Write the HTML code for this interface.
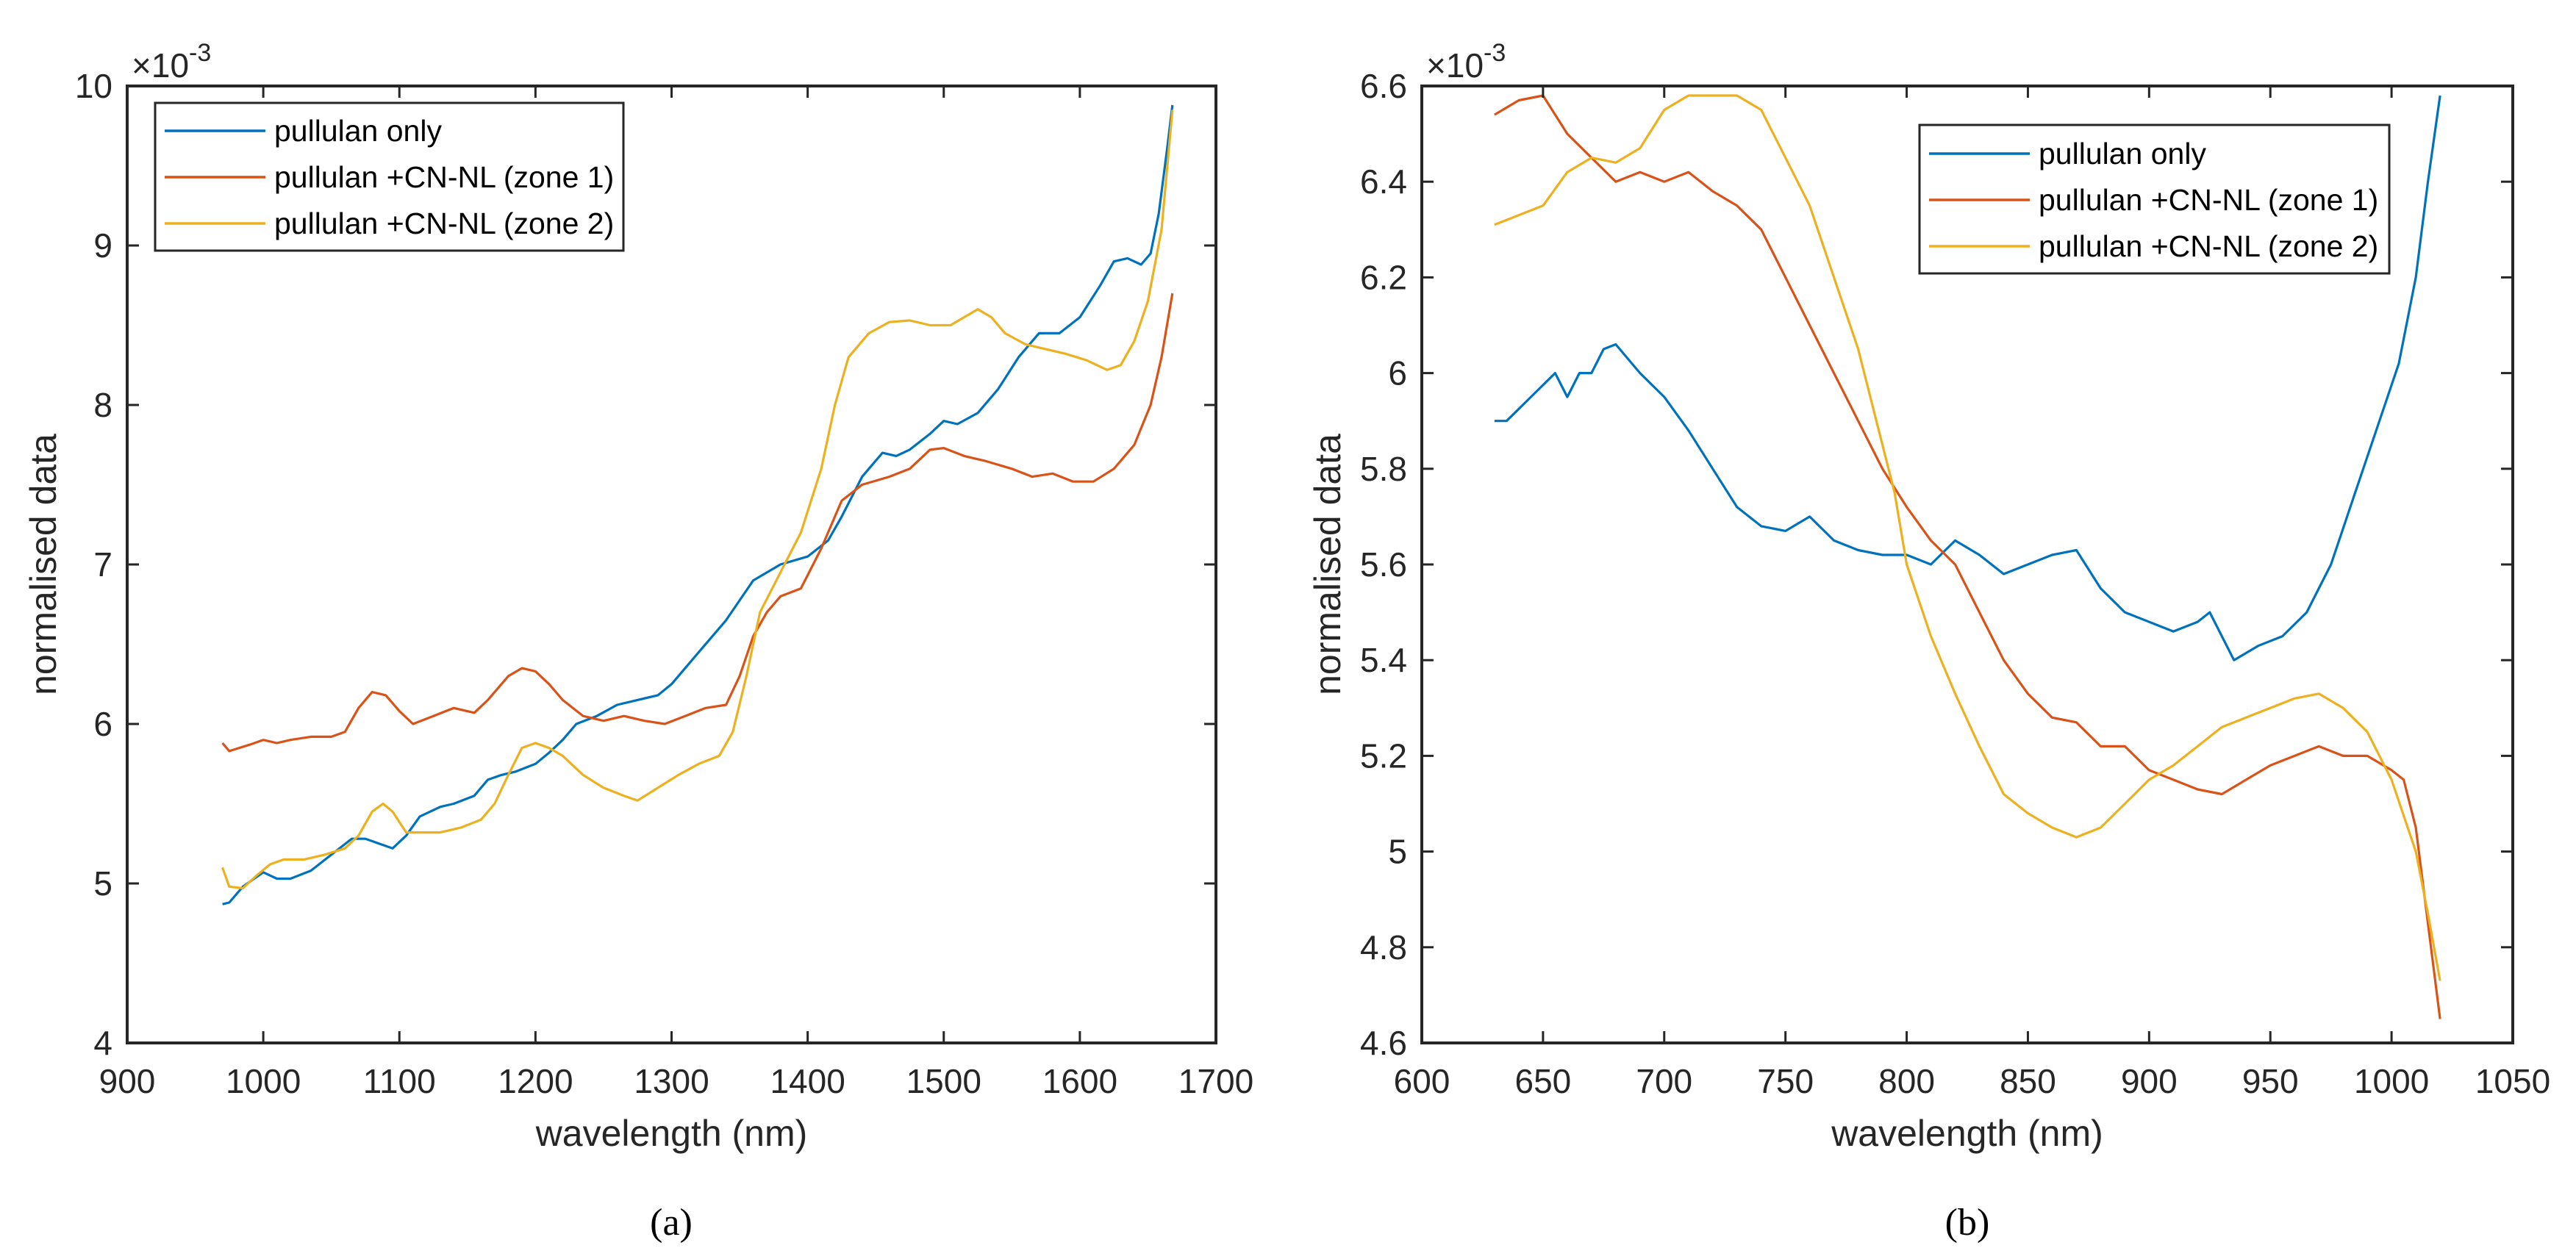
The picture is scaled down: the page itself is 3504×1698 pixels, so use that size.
<!DOCTYPE html>
<html><head><meta charset="utf-8">
<style>
html,body{margin:0;padding:0;background:#fff;}
svg{display:block;}
text{font-family:"Liberation Sans",Arial,sans-serif;fill:#262626;}
</style></head>
<body>
<svg id="fig" width="3504" height="1698" viewBox="0 0 3504 1698" xmlns="http://www.w3.org/2000/svg">
<rect x="0" y="0" width="3504" height="1698" fill="#fff"/>
<g id="panelA"></g>
<g id="panelB"></g>
<text x="913" y="1680" text-anchor="middle" style="font-family:'Liberation Serif',serif;font-size:52px;fill:#000">(a)</text>
<text x="2676" y="1680" text-anchor="middle" style="font-family:'Liberation Serif',serif;font-size:52px;fill:#000">(b)</text>
</svg>
<script>
// ---- Panel (a) data ----
const aBlueX = [970,975,985,1000,1010,1020,1035,1050,1065,1075,1085,1095,1105,1115,1130,1140,1155,1165,1175,1185,1200,1210,1220,1230,1245,1260,1275,1290,1300,1320,1340,1360,1380,1400,1415,1425,1440,1455,1465,1475,1490,1500,1510,1525,1540,1555,1570,1585,1600,1615,1625,1635,1645,1652,1658,1664,1668];
const aBlueY = [4.87,4.88,4.98,5.07,5.03,5.03,5.08,5.18,5.28,5.28,5.25,5.22,5.3,5.42,5.48,5.5,5.55,5.65,5.68,5.7,5.75,5.82,5.9,6.0,6.05,6.12,6.15,6.18,6.25,6.45,6.65,6.9,7.0,7.05,7.15,7.3,7.55,7.7,7.68,7.72,7.82,7.9,7.88,7.95,8.1,8.3,8.45,8.45,8.55,8.75,8.9,8.92,8.88,8.95,9.2,9.6,9.88];
const aOrangeX = [970,975,990,1000,1010,1020,1035,1050,1060,1070,1080,1090,1100,1110,1125,1140,1155,1165,1180,1190,1200,1210,1220,1235,1250,1265,1280,1295,1310,1325,1340,1350,1360,1370,1380,1395,1410,1425,1440,1460,1475,1490,1500,1515,1530,1550,1565,1580,1595,1610,1625,1640,1652,1660,1668];
const aOrangeY = [5.88,5.83,5.87,5.9,5.88,5.9,5.92,5.92,5.95,6.1,6.2,6.18,6.08,6.0,6.05,6.1,6.07,6.15,6.3,6.35,6.33,6.25,6.15,6.05,6.02,6.05,6.02,6.0,6.05,6.1,6.12,6.3,6.55,6.7,6.8,6.85,7.1,7.4,7.5,7.55,7.6,7.72,7.73,7.68,7.65,7.6,7.55,7.57,7.52,7.52,7.6,7.75,8.0,8.3,8.7];
const aYellowX = [970,975,985,995,1005,1015,1030,1045,1060,1070,1080,1088,1095,1105,1115,1130,1145,1160,1170,1180,1190,1200,1210,1220,1235,1250,1265,1275,1290,1305,1320,1335,1345,1355,1365,1380,1395,1410,1420,1430,1445,1460,1475,1490,1505,1515,1525,1535,1545,1560,1575,1590,1605,1620,1630,1640,1650,1660,1668];
const aYellowY = [5.1,4.98,4.97,5.05,5.12,5.15,5.15,5.18,5.22,5.3,5.45,5.5,5.45,5.32,5.32,5.32,5.35,5.4,5.5,5.68,5.85,5.88,5.85,5.8,5.68,5.6,5.55,5.52,5.6,5.68,5.75,5.8,5.95,6.3,6.7,6.95,7.2,7.6,8.0,8.3,8.45,8.52,8.53,8.5,8.5,8.55,8.6,8.55,8.45,8.38,8.35,8.32,8.28,8.22,8.25,8.4,8.65,9.1,9.85];
const aXTicks = [900,1000,1100,1200,1300,1400,1500,1600,1700];
const aYTicks = [4,5,6,7,8,9,10];
const aYTickLabels = ["4","5","6","7","8","9","10"];

// ---- Panel (b) data ----
const bBlueX = [630,635,645,655,660,665,670,675,680,690,700,710,720,730,740,750,760,770,780,790,800,810,820,830,840,850,860,870,880,890,900,910,920,925,935,945,955,965,975,985,995,1003,1010,1015,1020];
const bBlueY = [5.9,5.9,5.95,6.0,5.95,6.0,6.0,6.05,6.06,6.0,5.95,5.88,5.8,5.72,5.68,5.67,5.7,5.65,5.63,5.62,5.62,5.6,5.65,5.62,5.58,5.6,5.62,5.63,5.55,5.5,5.48,5.46,5.48,5.5,5.4,5.43,5.45,5.5,5.6,5.75,5.9,6.02,6.2,6.4,6.58];
const bOrangeX = [630,640,650,660,670,680,690,700,710,720,730,740,750,760,770,780,790,800,810,820,830,840,850,860,870,880,890,900,910,920,930,940,950,960,970,980,990,1000,1005,1010,1015,1020];
const bOrangeY = [6.54,6.57,6.58,6.5,6.45,6.4,6.42,6.4,6.42,6.38,6.35,6.3,6.2,6.1,6.0,5.9,5.8,5.72,5.65,5.6,5.5,5.4,5.33,5.28,5.27,5.22,5.22,5.17,5.15,5.13,5.12,5.15,5.18,5.2,5.22,5.2,5.2,5.17,5.15,5.05,4.85,4.65];
const bYellowX = [630,640,650,660,670,680,690,700,710,720,730,740,750,760,770,780,790,795,800,810,820,830,840,850,860,870,880,890,900,910,920,930,940,950,960,970,980,990,1000,1010,1015,1020];
const bYellowY = [6.31,6.33,6.35,6.42,6.45,6.44,6.47,6.55,6.58,6.58,6.58,6.55,6.45,6.35,6.2,6.05,5.85,5.75,5.6,5.45,5.33,5.22,5.12,5.08,5.05,5.03,5.05,5.1,5.15,5.18,5.22,5.26,5.28,5.3,5.32,5.33,5.3,5.25,5.15,5.0,4.87,4.73];
const bXTicks = [600,650,700,750,800,850,900,950,1000,1050];
const bYTicks = [4.6,4.8,5.0,5.2,5.4,5.6,5.8,6.0,6.2,6.4,6.6];
const bYTickLabels = ["4.6","4.8","5","5.2","5.4","5.6","5.8","6","6.2","6.4","6.6"];

const legendLabels = ["pullulan only","pullulan +CN-NL (zone 1)","pullulan +CN-NL (zone 2)"];
const COLORS = ["#0072BD","#D95319","#EDB120"];
const NS = "http://www.w3.org/2000/svg";

function mk(tag, attrs, parent){
  const e = document.createElementNS(NS, tag);
  for (const k in attrs) e.setAttribute(k, attrs[k]);
  parent.appendChild(e);
  return e;
}

function drawPanel(g, cfg){
  const {L,R,T,B,xmin,xmax,ymin,ymax} = cfg;
  const sx = v => L + (v - xmin) / (xmax - xmin) * (R - L);
  const sy = v => B - (v - ymin) / (ymax - ymin) * (B - T);
  // series
  cfg.series.forEach((s, i) => {
    const d = s.x.map((xv, j) => (j ? "L" : "M") + sx(xv).toFixed(1) + "," + sy(s.y[j]).toFixed(1)).join(" ");
    const p = mk("path", {d: d, fill: "none", stroke: COLORS[i], "stroke-width": 3.2, "stroke-linejoin": "round"}, g);
    
    
  });
  // axes box
  const box = mk("rect", {x: L, y: T, width: R - L, height: B - T, fill: "none", stroke: "#262626", "stroke-width": 4}, g);
  
  
  // x ticks
  cfg.xTicks.forEach(v => {
    const x = sx(v);
    mk("line", {x1: x, y1: B, x2: x, y2: B - 16, stroke: "#262626", "stroke-width": 3}, g);
    mk("line", {x1: x, y1: T, x2: x, y2: T + 16, stroke: "#262626", "stroke-width": 3}, g);
    const t = mk("text", {x: x, y: B + 68, "text-anchor": "middle", "font-size": 46}, g);
    t.textContent = String(v);
    
    
  });
  // y ticks
  cfg.yTicks.forEach((v, i) => {
    const y = sy(v);
    mk("line", {x1: L, y1: y, x2: L + 16, y2: y, stroke: "#262626", "stroke-width": 3}, g);
    mk("line", {x1: R, y1: y, x2: R - 16, y2: y, stroke: "#262626", "stroke-width": 3}, g);
    const t = mk("text", {x: L - 20, y: y + 16, "text-anchor": "end", "font-size": 46}, g);
    t.textContent = cfg.yLabels[i];
    
    
  });
  // exponent
  const ex = mk("text", {x: L + 6, y: T - 12, "font-size": 46}, g);
  
  
  ex.appendChild(document.createTextNode("\u00D710"));
  const sup = mk("tspan", {dy: -22, "font-size": 34}, ex);
  sup.textContent = "-3";
  // axis labels
  const xl = mk("text", {x: (L + R) / 2, y: B + 140, "text-anchor": "middle", "font-size": 50}, g);
  xl.textContent = "wavelength (nm)";
  
  
  const yl = mk("text", {x: 0, y: 0, "text-anchor": "middle", "font-size": 50, transform: "translate(" + cfg.ylx + "," + ((T + B) / 2) + ") rotate(-90)"}, g);
  yl.textContent = "normalised data";
  
  
  // legend
  const lg = mk("g", {}, g);
  
  
  const Lg = cfg.legend;
  mk("rect", {x: Lg.x, y: Lg.y, width: Lg.w, height: Lg.h, fill: "#fff", stroke: "#262626", "stroke-width": 3}, lg);
  legendLabels.forEach((lab, i) => {
    const yy = Lg.row0 + i * Lg.dy;
    const ln = mk("line", {x1: Lg.x + 13, y1: yy, x2: Lg.x + 150, y2: yy, stroke: COLORS[i], "stroke-width": 3.5}, lg);
    
    
    const t = mk("text", {x: Lg.x + 162, y: yy + 14, "font-size": 41, style: "fill:#000"}, lg);
    t.textContent = lab;
    
    
  });
}

drawPanel(document.getElementById("panelA"), {
  id: "panel-a", L: 173, R: 1654, T: 117, B: 1419, xmin: 900, xmax: 1700, ymin: 4, ymax: 10,
  xTicks: aXTicks, yTicks: aYTicks, yLabels: aYTickLabels, ylx: 76,
  series: [{x: aBlueX, y: aBlueY}, {x: aOrangeX, y: aOrangeY}, {x: aYellowX, y: aYellowY}],
  legend: {x: 211, y: 140, w: 637, h: 201, row0: 178, dy: 63}
});
drawPanel(document.getElementById("panelB"), {
  id: "panel-b", L: 1934, R: 3418, T: 117, B: 1419, xmin: 600, xmax: 1050, ymin: 4.6, ymax: 6.6,
  xTicks: bXTicks, yTicks: bYTicks, yLabels: bYTickLabels, ylx: 1823,
  series: [{x: bBlueX, y: bBlueY}, {x: bOrangeX, y: bOrangeY}, {x: bYellowX, y: bYellowY}],
  legend: {x: 2611, y: 170, w: 639, h: 202, row0: 209, dy: 63}
});
</script>
</body></html>
